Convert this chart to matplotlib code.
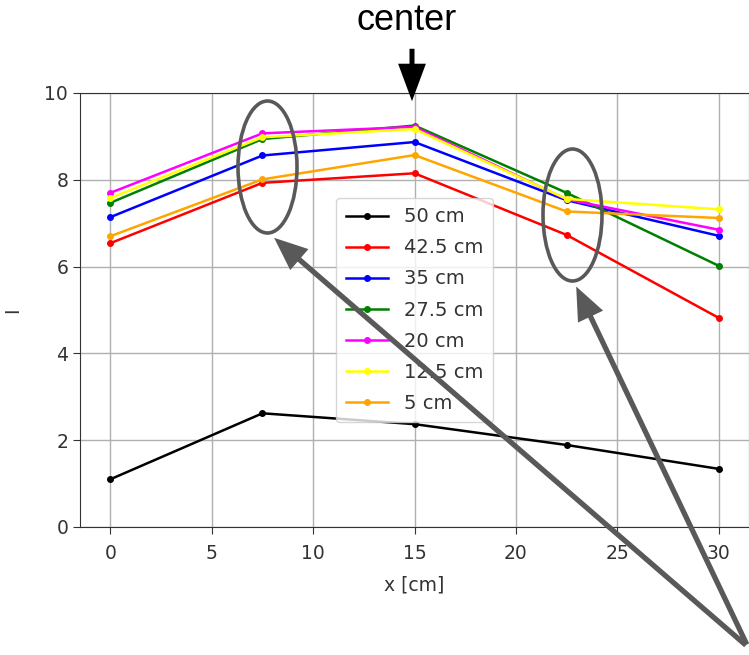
import matplotlib
matplotlib.use("Agg")
import matplotlib.pyplot as plt
from matplotlib.patches import Ellipse, FancyArrowPatch

x = [0, 7.5, 15, 22.5, 30]
labels = ["50 cm", "42.5 cm", "35 cm", "27.5 cm", "20 cm", "12.5 cm", "5 cm"]
colors = ["black", "red", "blue", "green", "magenta", "yellow", "orange"]
s50 = [1.10, 2.62, 2.37, 1.89, 1.34]
s42 = [6.54, 7.93, 8.15, 6.73, 4.82]
s35 = [7.14, 8.56, 8.87, 7.53, 6.71]
s27 = [7.47, 8.94, 9.25, 7.70, 6.02]
s20 = [7.70, 9.07, 9.22, 7.55, 6.85]
s12 = [7.58, 8.98, 9.17, 7.56, 7.32]
s05 = [6.70, 8.01, 8.57, 7.27, 7.12]
series = [s50, s42, s35, s27, s20, s12, s05]

W, H = 749, 655
fig = plt.figure(figsize=(W / 100, H / 100), dpi=100)
ax = fig.add_axes([80 / W, 1 - 527 / H, 669 / W, 434 / H])

for ys, lab, c in zip(series, labels, colors):
    ax.plot(x, ys, color=c, marker='o', markersize=4, linewidth=1.8, label=lab)

ax.set_xlim(-1.5, 31.5)
ax.set_ylim(0, 10)
ax.set_xticks([0, 5, 10, 15, 20, 25, 30])
ax.set_yticks([0, 2, 4, 6, 8, 10])
ax.grid(True, color='#b0b0b0', linewidth=1.0)
ax.tick_params(labelsize=13.5, colors='#333333', length=5)
ax.tick_params(axis='x', pad=7)
ax.set_xlabel("x [cm]", fontsize=13.5, color='#333333', labelpad=9)
ax.set_ylabel("I", fontsize=13.5, color='#333333', labelpad=16)
for sp in ax.spines.values():
    sp.set_color('#333333')
leg = ax.legend(loc='center', fontsize=14, handlelength=2.2,
                labelspacing=0.62, borderpad=0.5, frameon=True)
for t in leg.get_texts():
    t.set_color('#333333')

def fp(px, py):
    return (px / W, 1 - py / H)

tf = fig.transFigure
grey = '#595959'

fig.text(*fp(407, 20), "center", fontsize=26, family='Liberation Sans',
         ha='center', va='center')
fig.patches.append(FancyArrowPatch(fp(412, 46), fp(412, 104), transform=tf,
                                   arrowstyle='simple,head_width=2.0,head_length=2.7,tail_width=0.36',
                                   mutation_scale=10, color='black', lw=0))

for cx, cy in [(267.5, 167), (572.5, 215)]:
    fig.patches.append(Ellipse(fp(cx, cy), 59 / W, 132 / H, transform=tf,
                               fill=False, edgecolor=grey, linewidth=2.6))

for tx, ty in [(272, 236), (575, 284)]:
    fig.patches.append(FancyArrowPatch(fp(748, 647), fp(tx, ty), transform=tf,
                                       arrowstyle='simple,head_width=2.0,head_length=2.4,tail_width=0.38',
                                       mutation_scale=10, color=grey, lw=0))

fig.savefig("out.png", dpi=100)
